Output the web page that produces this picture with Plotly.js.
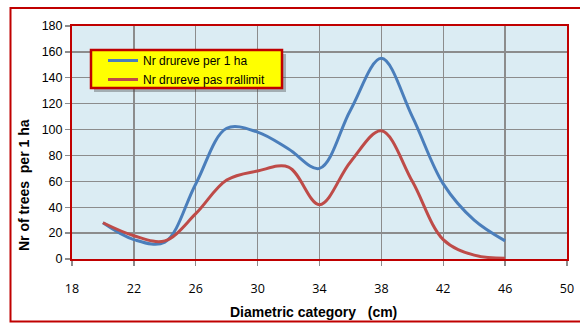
<!DOCTYPE html>
<html>
<head>
<meta charset="utf-8">
<script src="https://cdn.plot.ly/plotly-3.0.1.min.js"></script>
<style>
  html, body { margin: 0; padding: 0; background: #ffffff; }
  #chart { width: 580px; height: 323px; }
</style>
</head>
<body>
<div id="chart"></div>
<script>
// Diameter classes (cm)
const diameterClass = [20, 22, 24, 26, 28, 30, 32, 34, 36, 38, 40, 42, 44, 46];
// Trees per hectare
const treesPerHa = [28, 15, 13, 58, 101, 98, 85, 70, 115, 155, 110, 58, 30, 14];
// Trees after thinning
const treesAfterCut = [28, 18, 14, 35, 61, 68, 71, 42, 75, 99, 60, 15, 3, 0.5];

const seriesNames = ['Nr drureve per 1 ha', 'Nr drureve pas rrallimit'];
const xTicks = [18, 22, 26, 30, 34, 38, 42, 46, 50];
const yTicks = [0, 20, 40, 60, 80, 100, 120, 140, 160, 180];
const xTitle = 'Diametric category\u00a0\u00a0 (cm)';
const yTitle = 'Nr of trees\u00a0\u00a0per 1 ha';

const W = 580, H = 323;
const M = { l: 72, r: 13, t: 26, b: 64 };
const pw = W - M.l - M.r, ph = H - M.t - M.b;
// pixel -> paper helpers
const px = v => (v - M.l) / pw;
const py = v => (H - M.b - v) / ph;

const red = '#c00000';

const traces = [
  {
    x: diameterClass, y: treesPerHa, name: seriesNames[0],
    type: 'scatter', mode: 'lines',
    line: { color: '#4a7ebb', width: 3, shape: 'spline', smoothing: 1 }
  },
  {
    x: diameterClass, y: treesAfterCut, name: seriesNames[1],
    type: 'scatter', mode: 'lines',
    line: { color: '#be4b48', width: 3, shape: 'spline', smoothing: 1 }
  }
];

const layout = {
  width: W, height: H,
  margin: M,
  paper_bgcolor: '#ffffff',
  plot_bgcolor: '#dbecf3',
  font: { family: 'Liberation Sans, Arial, sans-serif', color: '#000000', size: 12 },
  showlegend: true,
  legend: {
    x: px(103), y: py(46), xanchor: 'left', yanchor: 'top',
    bgcolor: 'rgba(0,0,0,0)', borderwidth: 0,
    font: { family: 'Liberation Sans, Arial, sans-serif', size: 12, color: '#000' },
    tracegroupgap: 0
  },
  xaxis: {
    range: [18, 50], tickvals: xTicks, ticktext: xTicks.map(String),
    showgrid: true, gridcolor: '#8c8c8c', gridwidth: 1.3,
    showline: true, mirror: true, linecolor: red, linewidth: 2,
    ticks: 'outside', ticklen: 5, tickcolor: '#8c8c8c', tickwidth: 1.3,
    ticklabelstandoff: 12,
    tickfont: { family: 'Open Sans, sans-serif', size: 12.5, color: '#000' },
    zeroline: false, fixedrange: true
  },
  yaxis: {
    range: [0, 180], tickvals: yTicks,
    showgrid: true, gridcolor: '#8c8c8c', gridwidth: 1.3,
    showline: true, mirror: true, linecolor: red, linewidth: 2,
    ticks: 'outside', ticklen: 5, tickcolor: '#8c8c8c', tickwidth: 1.3,
    tickfont: { family: 'Liberation Sans, Arial, sans-serif', size: 12.5, color: '#000' },
    zeroline: false, fixedrange: true
  },
  shapes: [
    // chart frame
    { type: 'rect', xref: 'paper', yref: 'paper',
      x0: px(10.5), x1: px(584), y0: py(321.5), y1: py(8),
      line: { color: red, width: 2 }, fillcolor: 'rgba(0,0,0,0)', layer: 'below' },
    // legend shadow
    { type: 'rect', xref: 'paper', yref: 'paper',
      x0: px(94), x1: px(286), y0: py(92), y1: py(54),
      line: { width: 0 }, fillcolor: 'rgba(60,60,60,0.35)', layer: 'above' },
    // legend box
    { type: 'rect', xref: 'paper', yref: 'paper',
      x0: px(91), x1: px(282), y0: py(88), y1: py(50),
      line: { color: red, width: 2.5 }, fillcolor: '#ffff00', layer: 'above' }
  ],
  annotations: [
    { text: '<b>' + xTitle + '</b>', xref: 'paper', yref: 'paper',
      x: px(313), y: py(312), xanchor: 'center', yanchor: 'middle',
      showarrow: false, font: { family: 'Liberation Sans, Arial, sans-serif', size: 14, color: '#000' } },
    { text: '<b>' + yTitle + '</b>', xref: 'paper', yref: 'paper',
      x: px(24), y: py(185), xanchor: 'center', yanchor: 'middle', textangle: -90,
      showarrow: false, font: { family: 'Liberation Sans, Arial, sans-serif', size: 14, color: '#000' } }
  ]
};

Plotly.newPlot('chart', traces, layout, { displayModeBar: false, staticPlot: true });
</script>
</body>
</html>
